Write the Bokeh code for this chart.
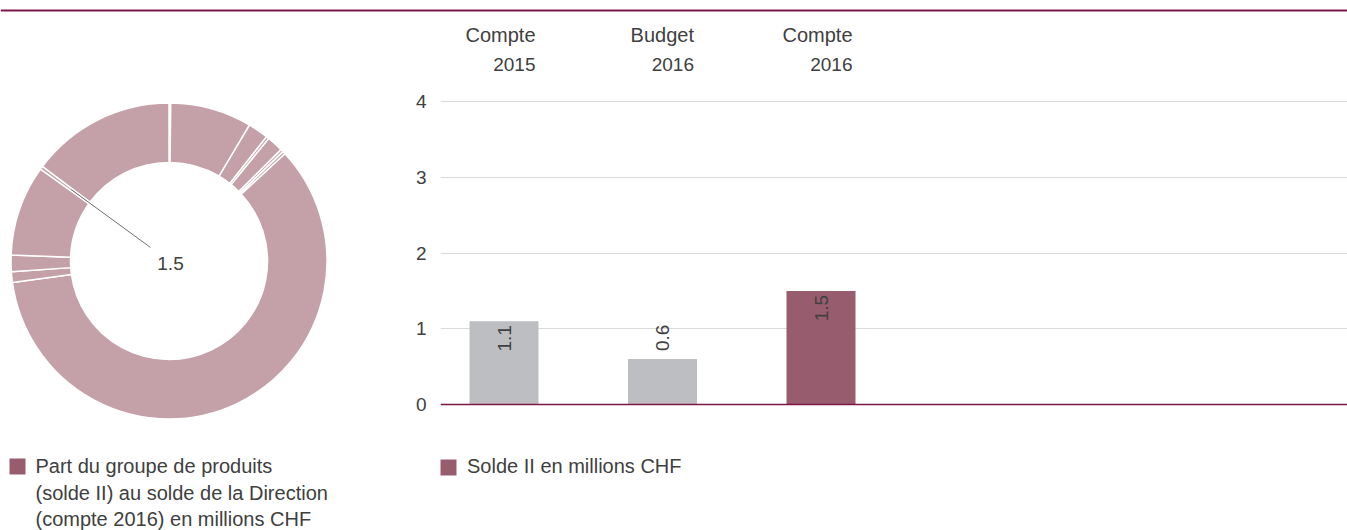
import numpy as np
from bokeh.plotting import figure
from bokeh.layouts import row, column
from bokeh.models import Range1d, Span, FixedTicker, Legend, LegendItem
from bokeh.core.properties import value
from bokeh.embed import file_html
from bokeh.resources import INLINE

# ---------------- data ----------------
donut_values = [0.8, 37.5, 9.4, 1.3, 7.5, 1.3, 1.3, 268.8, 5.0, 7.5, 41.8, 1.5, 66.6]
donut_highlight = 11
donut_legend_lines = ["Part du groupe de produits",
                      "(solde II) au solde de la Direction",
                      "(compte 2016) en millions CHF"]

bar_label_top = ["Compte", "Budget", "Compte"]
bar_label_year = ["2015", "2016", "2016"]
bar_values = [1.1, 0.6, 1.5]
bar_legend_label = "Solde II en millions CHF"
y_ticks = [0, 1, 2, 3, 4]

# ---------------- style ----------------
FONT = "Liberation Sans"
TXT = "#404040"
DONUT = "#C4A0A9"
MAROON = "#975C6E"
GRAY = "#BDBEC2"
LINE = "#7D1846"
GRID = "#DADADA"
FS_W = "20px"   # words
FS_N = "19px"   # numbers

TOTAL_W = 1347
TOP = 12                 # height of the strip carrying the top rule
H = 530 - TOP
W1 = 388
W2 = TOTAL_W - W1


def clean(f):
    f.outline_line_color = None
    f.background_fill_color = "white"
    f.border_fill_color = "white"


# ---------------- top rule strip ----------------
t = figure(width=TOTAL_W, height=TOP, output_backend="svg", toolbar_location=None,
           x_range=Range1d(0, TOTAL_W), y_range=Range1d(0, TOP),
           min_border=0, min_border_left=0, min_border_right=0,
           min_border_top=0, min_border_bottom=0)
t.axis.visible = False
t.grid.visible = False
clean(t)
t.add_layout(Span(location=2, dimension="width", line_color=LINE, line_width=2))

# ---------------- donut figure ----------------
CX, CY = 168.5, 260.5 - TOP    # donut centre in figure pixels (from top-left)
R_OUT, R_IN = 158, 98.5

d = figure(width=W1, height=H, output_backend="svg", toolbar_location=None,
           x_range=Range1d(-CX, W1 - CX), y_range=Range1d(-(H - CY), CY),
           min_border=0, min_border_left=0, min_border_right=0,
           min_border_top=0, min_border_bottom=0)
d.axis.visible = False
d.grid.visible = False
clean(d)

total = float(sum(donut_values))
cum = np.concatenate([[0.0], np.cumsum(donut_values)]) / total
starts = np.pi / 2 - 2 * np.pi * cum[:-1]
ends = np.pi / 2 - 2 * np.pi * cum[1:]
d.annular_wedge(x=0, y=0, inner_radius=R_IN, outer_radius=R_OUT,
                inner_radius_units="screen", outer_radius_units="screen",
                start_angle=starts, end_angle=ends, direction="clock",
                fill_color=DONUT, line_color="white", line_width=1.5)

# leader line to highlighted slice
mid = np.pi / 2 - 2 * np.pi * (cum[donut_highlight] + cum[donut_highlight + 1]) / 2
rr = np.array([23.0, 121.0])
d.line(x=rr * np.cos(mid), y=rr * np.sin(mid), line_color="#6E6E6E", line_width=1)
d.text(x=[1.5], y=[-2.5], text=[f"{donut_values[donut_highlight]:.1f}"],
       text_font=value(FONT), text_font_size=FS_N, text_color=TXT,
       text_align="center", text_baseline="middle")

# donut legend (square + multi-line text)
LEG_Y = 260.5 - 465.5
d.rect(x=[17 - 168.5], y=[LEG_Y - 0.5], width=16, height=16, width_units="screen",
       height_units="screen", fill_color=MAROON, line_color=None)
d.text(x=[35 - 168.5] * len(donut_legend_lines),
       y=[LEG_Y - 26.5 * i for i in range(len(donut_legend_lines))],
       text=donut_legend_lines, text_font=value(FONT), text_font_size=FS_W,
       text_color=TXT, text_align="left", text_baseline="middle")

# ---------------- bar figure ----------------
PX = 75.75       # pixels per unit on y
SLOT = 158.5     # pixels per category on x
LEFT = 440 - W1
ZERO = 404       # pixel row of y = 0 in the page
frame_w = W2 - LEFT
x0 = -63.5 / SLOT
b = figure(width=W2, height=H, output_backend="svg", toolbar_location=None,
           x_range=Range1d(x0, x0 + frame_w / SLOT),
           y_range=Range1d(-(530 - ZERO) / PX, (ZERO - TOP) / PX),
           min_border_left=LEFT, min_border_right=0, min_border_top=0,
           min_border_bottom=0)
clean(b)
b.xgrid.visible = False
b.ygrid.ticker = FixedTicker(ticks=y_ticks)
b.ygrid.grid_line_color = GRID
b.ygrid.grid_line_width = 1

b.yaxis.ticker = FixedTicker(ticks=y_ticks)
b.yaxis.axis_line_color = None
b.yaxis.major_tick_line_color = None
b.yaxis.minor_tick_line_color = None
b.yaxis.major_label_standoff = 8
b.yaxis.major_label_text_font = FONT
b.yaxis.major_label_text_font_size = FS_N
b.yaxis.major_label_text_color = TXT
b.yaxis.major_label_text_font_style = "normal"
b.xaxis.visible = False

n = len(bar_values)
xs = list(range(n))
colors = [GRAY] * (n - 1) + [MAROON]
BW = 69 / SLOT
bars = b.vbar(x=xs, top=bar_values, width=BW, fill_color=colors, line_color=None)

# baseline
b.add_layout(Span(location=0, dimension="width", line_color=LINE, line_width=1.5))

# column headers
hx = [x + BW / 2 for x in xs]
b.text(x=hx, y=[(ZERO - 34) / PX] * n, text=bar_label_top, x_offset=-3,
       text_font=value(FONT), text_font_size=FS_W, text_color=TXT,
       text_align="right", text_baseline="alphabetic")
b.text(x=hx, y=[(ZERO - 64) / PX] * n, text=bar_label_year, x_offset=-3,
       text_font=value(FONT), text_font_size=FS_N, text_color=TXT,
       text_align="right", text_baseline="alphabetic")

# value labels (rotated)
inside = [v >= 1 for v in bar_values]
for flag, align, off in [(True, "right", -4), (False, "left", 8)]:
    sel = [i for i in xs if inside[i] == flag]
    if not sel:
        continue
    b.text(x=[xs[i] for i in sel], y=[bar_values[i] + off / PX for i in sel],
           text=[f"{bar_values[i]:.1f}" for i in sel], angle=np.pi / 2,
           text_font=value(FONT), text_font_size=FS_N, text_color=TXT,
           text_align=align, text_baseline="middle")

# legend (glyph taken from the highlighted bar; area glyphs are drawn at 80 %)
leg = Legend(items=[LegendItem(label=bar_legend_label, renderers=[bars], index=n - 1)],
             location=(-2, 52), padding=0, margin=0, glyph_width=20, glyph_height=20,
             label_standoff=9, border_line_color=None, background_fill_alpha=0,
             label_text_font=FONT, label_text_font_size=FS_W, label_text_color=TXT)
b.add_layout(leg, "center")

layout = column(t, row(d, b, spacing=0), spacing=0)
open("out.html", "w").write(file_html(layout, INLINE))
